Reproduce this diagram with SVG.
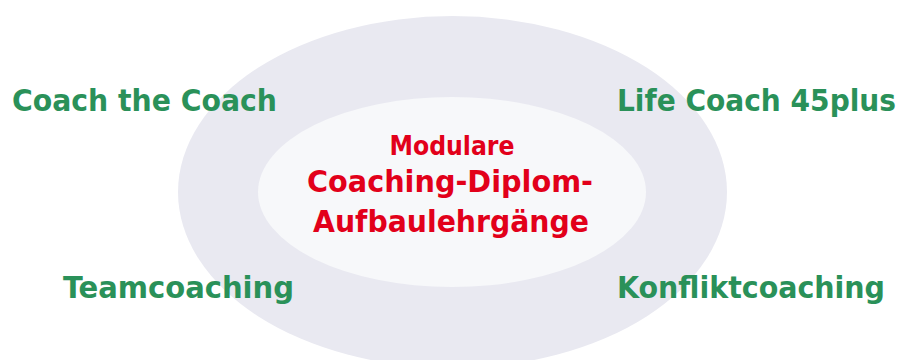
<svg xmlns="http://www.w3.org/2000/svg" width="901" height="360" viewBox="0 0 901 360">
<style>
.g{fill:#2a9159;font-family:"DejaVu Sans Condensed","DejaVu Sans","Liberation Sans",sans-serif;font-stretch:condensed;font-weight:bold;font-size:31px}
.r{fill:#e2001a;font-family:"DejaVu Sans Condensed","DejaVu Sans","Liberation Sans",sans-serif;font-stretch:condensed;font-weight:bold;text-anchor:middle}
</style>
<rect width="901" height="360" fill="#ffffff"/>
<g id="outer"><ellipse cx="452.5" cy="192" rx="274.5" ry="176" fill="#e9e9f1"/></g>
<g id="center">
<ellipse cx="452" cy="192" rx="194" ry="95" fill="#f7f8fa"/>
<text class="r" x="452" y="155" font-size="26" textLength="125" lengthAdjust="spacingAndGlyphs">Modulare</text>
<text class="r" x="450" y="192" font-size="30" textLength="286" lengthAdjust="spacingAndGlyphs">Coaching-Diplom-</text>
<text class="r" x="451" y="232" font-size="30" textLength="276" lengthAdjust="spacingAndGlyphs">Aufbaulehrgänge</text>
</g>
<g id="n1"><text class="g" x="12" y="111" textLength="265" lengthAdjust="spacingAndGlyphs">Coach the Coach</text></g>
<g id="n2"><text class="g" x="617" y="111" textLength="279" lengthAdjust="spacingAndGlyphs">Life Coach 45plus</text></g>
<g id="n3"><text class="g" x="63" y="298" textLength="231" lengthAdjust="spacingAndGlyphs">Teamcoaching</text></g>
<g id="n4"><text class="g" x="617" y="298" textLength="268" lengthAdjust="spacingAndGlyphs">Konfliktcoaching</text></g>
</svg>
